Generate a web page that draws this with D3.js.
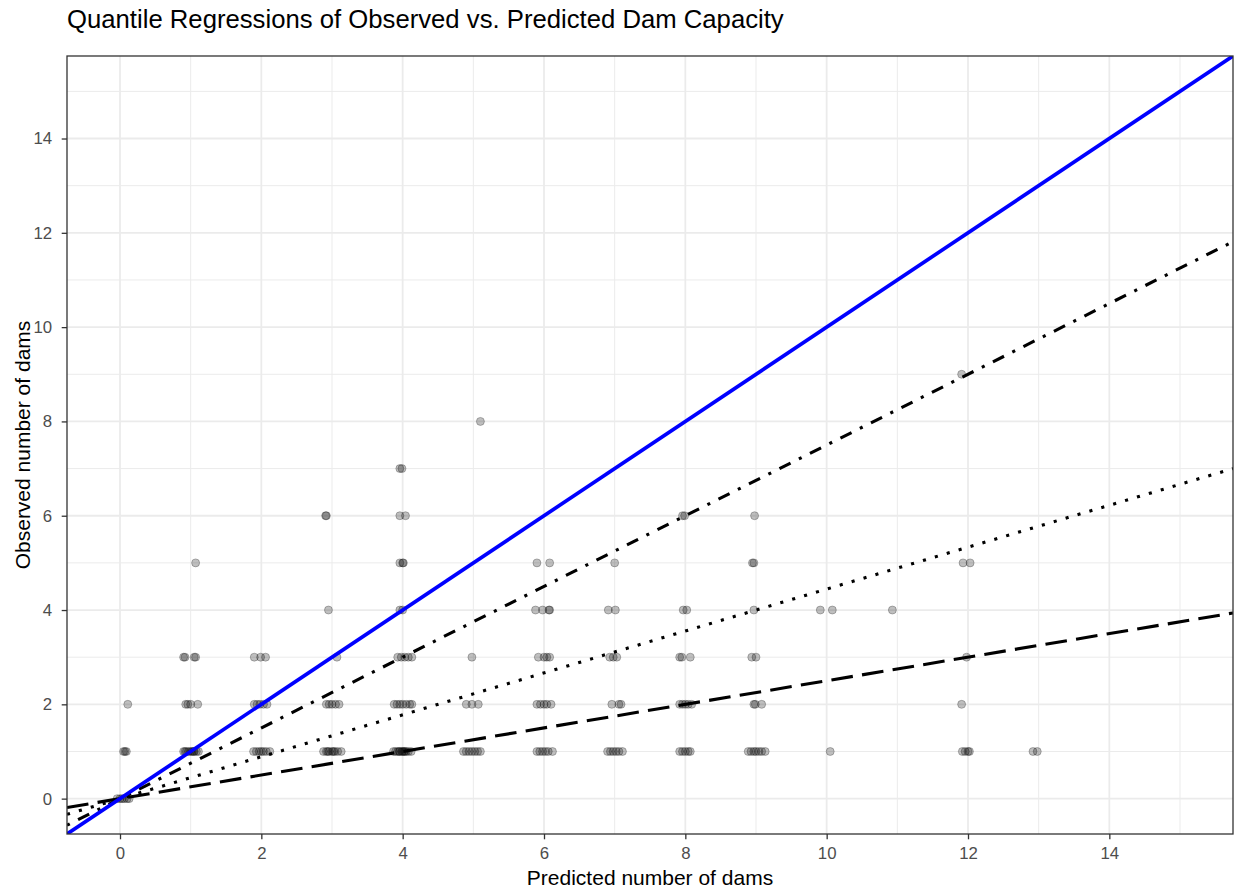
<!DOCTYPE html>
<html>
<head>
<meta charset="utf-8">
<script src="https://cdn.jsdelivr.net/npm/d3@7"></script>
<style>
	body { margin: 0; background: #fff; }
	text { font-family: "Liberation Sans", Arial, sans-serif; }
</style>
</head>
<body>
<script>
// observations: predicted (jittered) vs observed number of dams
var obs0 = [-0.04, 0.0, 0.03, 0.06, 0.1, 0.13]
var obs1 = [0.05, 0.07, 0.09, 0.9, 0.92, 0.94, 0.97, 1.0, 1.02, 1.04, 1.05, 1.08, 1.11,
	1.89, 1.93, 1.97, 2.0, 2.03, 2.07, 2.12, 2.88, 2.92, 2.94, 2.96, 3.0, 3.02, 3.04, 3.08, 3.13,
	3.87, 3.9, 3.93, 3.95, 3.96, 3.99, 4.0, 4.02, 4.03, 4.05, 4.08, 4.12,
	4.86, 4.9, 4.94, 4.98, 5.02, 5.06, 5.1, 5.9, 5.94, 5.98, 6.02, 6.06, 6.12,
	6.9, 6.94, 6.98, 7.02, 7.06, 7.11, 7.92, 7.96, 8.0, 8.04, 8.07,
	8.89, 8.93, 8.97, 9.0, 9.04, 9.08, 9.13, 10.05, 11.92, 11.96, 12.0, 12.02, 12.92, 12.98]
var obs2 = [0.11, 0.93, 0.96, 1.0, 1.1, 1.9, 1.94, 1.98, 2.03, 2.08, 2.92, 2.96, 3.0, 3.05, 3.1,
	3.88, 3.92, 3.96, 4.0, 4.05, 4.1, 4.13, 4.9, 4.98, 5.07, 5.9, 5.95, 6.0, 6.04, 6.1,
	6.96, 7.06, 7.09, 7.92, 7.96, 8.0, 8.04, 8.09, 8.97, 8.99, 9.08, 11.91]
var obs3 = [0.9, 0.92, 1.05, 1.07, 1.9, 1.99, 2.06, 3.07, 3.93, 3.98, 4.03, 4.08, 4.13, 4.98,
	5.92, 6.0, 6.04, 6.08, 6.93, 6.98, 7.03, 7.92, 7.95, 8.07, 8.94, 9.0, 11.98]
var obs4 = [2.95, 3.96, 4.0, 5.88, 5.98, 6.07, 6.08, 6.91, 7.01, 7.97, 8.02, 8.97, 9.91, 10.08, 10.93]
var obs5 = [1.07, 3.96, 4.0, 4.01, 5.9, 6.08, 7.0, 8.95, 8.97, 11.93, 12.03]
var obs6 = [2.91, 2.92, 3.96, 4.04, 7.96, 7.99, 8.98]
var obs7 = [3.96, 3.99]
var obs8 = [5.1]
var obs9 = [11.91]
var observedGroups = [obs0, obs1, obs2, obs3, obs4, obs5, obs6, obs7, obs8, obs9]

// quantile regression fits (through the origin)
var quantSlopes = [0.25, 0.4444, 0.75]
var quantTypes = ["longdash", "dotted", "dotdash"]

var axisLimits = [-0.75, 15.75]
var tickValues = [0, 2, 4, 6, 8, 10, 12, 14]
var minorValues = [1, 3, 5, 7, 9, 11, 13, 15]

var chartTitle = "Quantile Regressions of Observed vs. Predicted Dam Capacity"
var xTitle = "Predicted number of dams"
var yTitle = "Observed number of dams"

var points = []
observedGroups.forEach((xs, yv) => xs.forEach((xv) => points.push({ x: xv, y: yv })))

var width = 1238, height = 890
var panel = { left: 67, right: 1233, top: 56, bottom: 834 }
var lw = 3.1
var dashes = {
	longdash: [7 * lw, 3 * lw].join(","),
	dotted: [lw, 3 * lw].join(","),
	dotdash: [lw, 3 * lw, 4 * lw, 3 * lw].join(",")
}

var svg = d3.select("body").append("svg")
	.attr("width", width)
	.attr("height", height)

var x = d3.scaleLinear().domain(axisLimits).range([panel.left, panel.right])
var y = d3.scaleLinear().domain(axisLimits).range([panel.bottom, panel.top])

svg.append("defs").append("clipPath").attr("id", "clip")
	.append("rect")
	.attr("x", panel.left).attr("y", panel.top)
	.attr("width", panel.right - panel.left).attr("height", panel.bottom - panel.top)

// grid
var grid = svg.append("g")
grid.selectAll(".vminor").data(minorValues).enter().append("line")
	.attr("x1", (d) => x(d)).attr("x2", (d) => x(d))
	.attr("y1", panel.top).attr("y2", panel.bottom)
	.attr("stroke", "#ebebeb").attr("stroke-width", 1)
grid.selectAll(".hminor").data(minorValues).enter().append("line")
	.attr("y1", (d) => y(d)).attr("y2", (d) => y(d))
	.attr("x1", panel.left).attr("x2", panel.right)
	.attr("stroke", "#ebebeb").attr("stroke-width", 1)
grid.selectAll(".vmajor").data(tickValues).enter().append("line")
	.attr("x1", (d) => x(d)).attr("x2", (d) => x(d))
	.attr("y1", panel.top).attr("y2", panel.bottom)
	.attr("stroke", "#ebebeb").attr("stroke-width", 1.8)
grid.selectAll(".hmajor").data(tickValues).enter().append("line")
	.attr("y1", (d) => y(d)).attr("y2", (d) => y(d))
	.attr("x1", panel.left).attr("x2", panel.right)
	.attr("stroke", "#ebebeb").attr("stroke-width", 1.8)

var plot = svg.append("g").attr("clip-path", "url(#clip)")

plot.selectAll("circle").data(points).enter().append("circle")
	.attr("cx", (d) => x(d.x))
	.attr("cy", (d) => y(d.y))
	.attr("r", 4)
	.attr("fill", "#000").attr("fill-opacity", 0.25)
	.attr("stroke", "#000").attr("stroke-opacity", 0.25).attr("stroke-width", 1)

var line = d3.line().x((d) => x(d[0])).y((d) => y(d[1]))

quantSlopes.forEach((b, i) => {
	plot.append("path")
		.attr("d", line(axisLimits.map((v) => [v, b * v])))
		.attr("fill", "none")
		.attr("stroke", "#000")
		.attr("stroke-width", lw)
		.attr("stroke-dasharray", dashes[quantTypes[i]])
})

plot.append("path")
	.attr("d", line(axisLimits.map((v) => [v, v])))
	.attr("fill", "none")
	.attr("stroke", "#0000ff")
	.attr("stroke-width", 3.7)

svg.append("rect")
	.attr("x", panel.left).attr("y", panel.top)
	.attr("width", panel.right - panel.left).attr("height", panel.bottom - panel.top)
	.attr("fill", "none").attr("stroke", "#333333").attr("stroke-width", 1.3)

// axes
var xAxis = svg.append("g")
	.attr("transform", "translate(0," + panel.bottom + ")")
	.call(d3.axisBottom(x).tickValues(tickValues).tickSize(5.3).tickPadding(7.5))
var yAxis = svg.append("g")
	.attr("transform", "translate(" + panel.left + ",0)")
	.call(d3.axisLeft(y).tickValues(tickValues).tickSize(5.3).tickPadding(9.5))
;[xAxis, yAxis].forEach((a) => {
	a.select(".domain").remove()
	a.selectAll(".tick line").attr("stroke", "#333333").attr("stroke-width", 1.3)
	a.selectAll(".tick text")
		.attr("fill", "#4d4d4d")
		.style("font-size", "16.8px")
		.style("font-family", "'Liberation Sans', Arial, sans-serif")
})

svg.append("text")
	.attr("x", panel.left).attr("y", 28)
	.style("font-size", "25.7px")
	.attr("fill", "#000")
	.text(chartTitle)

svg.append("text")
	.attr("x", (panel.left + panel.right) / 2).attr("y", 885)
	.attr("text-anchor", "middle")
	.style("font-size", "21px")
	.text(xTitle)

svg.append("text")
	.attr("transform", "translate(29.5," + ((panel.top + panel.bottom) / 2) + ") rotate(-90)")
	.attr("text-anchor", "middle")
	.style("font-size", "21px")
	.text(yTitle)
</script>
</body>
</html>
